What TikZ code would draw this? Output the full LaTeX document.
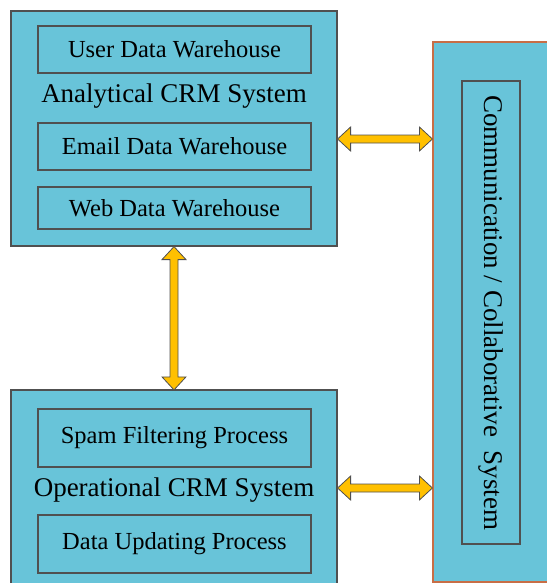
\documentclass[tikz,border=0pt]{standalone}
\usepackage{fontspec}
\setmainfont{Liberation Serif}
\usetikzlibrary{calc}
\definecolor{crmblue}{RGB}{104,196,217}
\definecolor{boxline}{RGB}{80,80,80}
\definecolor{commline}{RGB}{200,110,70}
\definecolor{arrowgold}{RGB}{255,192,0}
\tikzstyle{sysbox} = [draw=boxline, fill=crmblue, line width=1.2pt, rectangle, inner sep=0pt]
\tikzstyle{partbox} = [draw=boxline, line width=1.2pt, rectangle, inner sep=0pt, minimum width=273pt, font=\fontsize{24.5}{28}\selectfont]
\tikzstyle{systitle} = [font=\fontsize{27}{32}\selectfont]
\tikzstyle{blockarrow} = [fill=arrowgold, draw=boxline, line width=0.8pt, line join=miter]
% fat double arrows between two anchors
\newcommand{\harrow}[2]{%
  \filldraw[blockarrow] let \p1=(#1), \p2=(#2) in
    (\x1,\y1) -- (\x1+13pt,\y1+12pt) -- (\x1+13pt,\y1+4pt) -- (\x2-13pt,\y1+4pt)
    -- (\x2-13pt,\y1+12pt) -- (\x2,\y1) -- (\x2-13pt,\y1-12pt) -- (\x2-13pt,\y1-4pt)
    -- (\x1+13pt,\y1-4pt) -- (\x1+13pt,\y1-12pt) -- cycle;}
\newcommand{\varrow}[2]{%
  \filldraw[blockarrow] let \p1=(#1), \p2=(#2) in
    (\x1,\y1) -- (\x1+12pt,\y1-13pt) -- (\x1+4pt,\y1-13pt) -- (\x1+4pt,\y2+13pt)
    -- (\x1+12pt,\y2+13pt) -- (\x1,\y2) -- (\x1-12pt,\y2+13pt) -- (\x1-4pt,\y2+13pt)
    -- (\x1-4pt,\y1-13pt) -- (\x1-12pt,\y1-13pt) -- cycle;}

\begin{document}
\begin{tikzpicture}[x=1pt, y=-1pt]
\useasboundingbox (0,0) rectangle (546,583);

% analytical CRM
\node[sysbox, minimum width=326pt, minimum height=235pt] (analytical) at (174,128.5) {};
\node[partbox, minimum height=47pt] (userdw) at (174.5,49.5) {User Data Warehouse};
\node[systitle] (antitle) at (174,96.5) {Analytical CRM System};
\node[partbox, minimum height=47pt] (emaildw) at (174.5,146.5) {Email Data Warehouse};
\node[partbox, minimum height=42pt] (webdw) at (174.5,208) {Web Data Warehouse};

% operational CRM
\node[sysbox, minimum width=326pt, minimum height=200pt] (operational) at (174,490) {};
\node[partbox, minimum height=58pt] (spam) at (174.5,438) {Spam Filtering Process};
\node[systitle] (optitle) at (174,490) {Operational CRM System};
\node[partbox, minimum height=58pt] (update) at (174.5,544) {Data Updating Process};

% communication / collaborative
\node[sysbox, draw=commline, minimum width=130pt, minimum height=540pt] (collab) at (498,312) {};
\node[draw=boxline, line width=1.2pt, minimum width=58pt, minimum height=463pt, inner sep=0pt] (collabin) at (491,312.5) {};
\node[systitle, rotate=-90] (coltitle) at (collabin.center) {Communication / Collaborative~ System};

% connectors
\harrow{[yshift=-10.5pt]analytical.east}{collab.west}
\harrow{[yshift=2pt]operational.east}{collab.west}
\varrow{analytical.south}{[yshift=-0.5pt]operational.north}
\end{tikzpicture}
\end{document}
